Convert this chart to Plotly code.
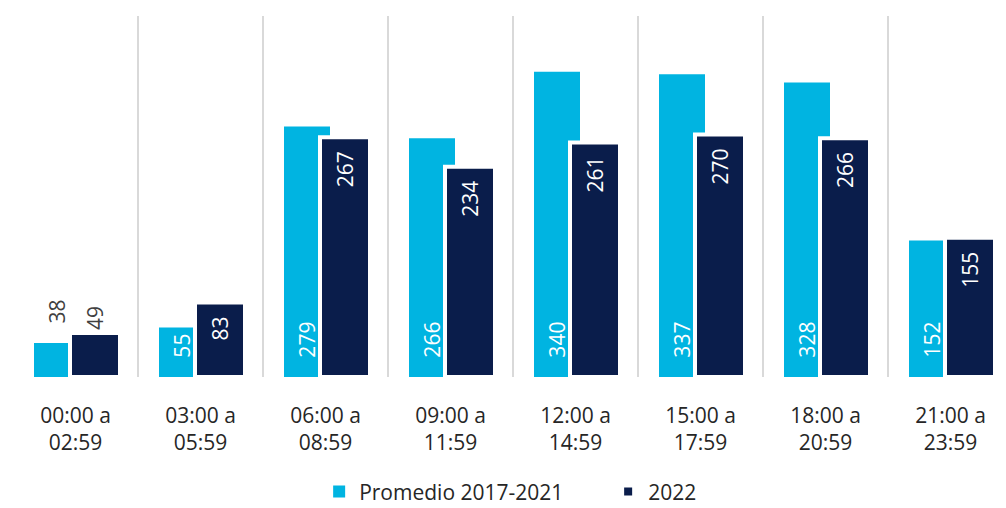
import plotly.graph_objects as go

categories = ["00:00 a<br>02:59", "03:00 a<br>05:59", "06:00 a<br>08:59", "09:00 a<br>11:59",
              "12:00 a<br>14:59", "15:00 a<br>17:59", "18:00 a<br>20:59", "21:00 a<br>23:59"]
promedio = [38, 55, 279, 266, 340, 337, 328, 152]
y2022 = [49, 83, 267, 234, 261, 270, 266, 155]
series_names = ["Promedio 2017-2021", "2022"]

LIGHT = "#00B4E1"
DARK = "#0A1D4B"
FONT = "'Open Sans', Lato, sans-serif"
NB = "\u00a0"

pos_light = ["outside"] + ["inside"] * 7
pos_dark = ["outside"] + ["inside"] * 7

fig = go.Figure()
fig.add_trace(go.Bar(
    x=categories, y=promedio, name=series_names[0],
    marker=dict(color=LIGHT, line=dict(width=0)),
    width=0.368, offset=-0.332,
    texttemplate=NB * 3 + "%{y}", textposition=pos_light,
    insidetextanchor="start", textangle=-90,
    insidetextfont=dict(color="white", size=21, family=FONT),
    outsidetextfont=dict(color="#404040", size=21, family=FONT),
    cliponaxis=False,
))
fig.add_trace(go.Bar(
    x=categories, y=y2022, name=series_names[1],
    marker=dict(color=DARK, line=dict(width=4, color="white")),
    width=0.4, offset=-0.044,
    texttemplate="%{y}" + NB * 2, textposition=pos_dark,
    insidetextanchor="end", textangle=-90,
    insidetextfont=dict(color="white", size=21, family=FONT),
    outsidetextfont=dict(color="#404040", size=21, family=FONT),
    cliponaxis=False,
))

fig.update_layout(
    width=1006, height=508,
    barmode="overlay",
    paper_bgcolor="white", plot_bgcolor="white",
    margin=dict(l=12, r=0, t=16, b=131, autoexpand=False),
    font=dict(family=FONT, color="#262626", size=21),
    uniformtext=dict(minsize=21, mode="show"),
    xaxis=dict(
        type="category", range=[-0.508, 7.444], tickson="boundaries",
        showgrid=True, gridcolor="#D9D9D9", gridwidth=1.5,
        ticks="", showline=False, zeroline=False, automargin=False,
        ticklabelstandoff=24,
        tickfont=dict(size=21, color="#262626"),
    ),
    yaxis=dict(range=[0, 402], visible=False, showgrid=False, zeroline=False,
               automargin=False),
    legend=dict(
        orientation="h", x=0.309, xanchor="left", y=-0.318, yanchor="middle",
        font=dict(size=21, color="#262626"), itemwidth=30,
        entrywidth=244, entrywidthmode="pixels",
        traceorder="normal",
    ),
    showlegend=True,
)

fig.write_html("out.html", config={"displayModeBar": False},
               post_script="document.body.style.margin='0';")
